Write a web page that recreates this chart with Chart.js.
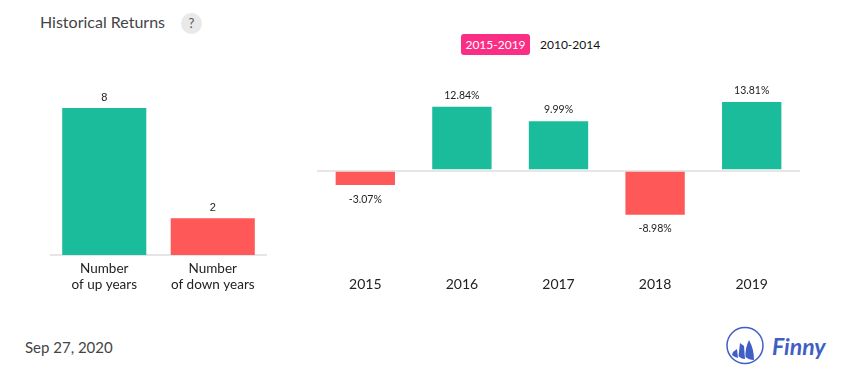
<!DOCTYPE html>
<html>
<head>
<meta charset="utf-8">
<title>Historical Returns</title>
<script src="https://cdn.jsdelivr.net/npm/chart.js@4"></script>
<style>
  html, body { margin: 0; padding: 0; background: #fff; overflow: hidden; }
  body { width: 855px; height: 382px; position: relative; font-family: Lato, sans-serif; }
  .box { position: absolute; }
  #title { left: 40px; top: 12px; font-size: 16px; color: #444; line-height: 20px; }
  #help { left: 181px; top: 13px; width: 21px; height: 21px; border-radius: 50%; background: #e9e9e9; color: #555; font-size: 13px; line-height: 21px; text-align: center; }
  #on { left: 461px; top: 34px; width: 69px; height: 21px; border-radius: 3px; background: #fb2e86; color: #fff; font-size: 12px; line-height: 21px; text-align: center; }
  #off { left: 540px; top: 34px; color: #111; font-size: 12px; line-height: 21px; }
  #date { left: 25px; top: 337px; font-size: 15px; line-height: 20px; color: #444; }
  #leftBox { left: 50px; top: 70px; width: 217px; height: 230px; }
  #rightBox { left: 317px; top: 60px; width: 483px; height: 240px; }
  #logo { left: 720px; top: 322px; }
</style>
</head>
<body>
<div class="box" id="title">Historical Returns</div>
<div class="box" id="help">?</div>
<div class="box" id="on">2015-2019</div>
<div class="box" id="off">2010-2014</div>
<div class="box" id="leftBox"><canvas id="leftChart"></canvas></div>
<div class="box" id="rightBox"><canvas id="rightChart"></canvas></div>
<div class="box" id="date">Sep 27, 2020</div>
<svg class="box" id="logo" width="115" height="50" viewBox="0 0 115 50">
  <circle cx="25" cy="23.5" r="18" fill="none" stroke="#3f5fc4" stroke-width="1.5"/>
  <path d="M13 30 L17 27 L18 36 Q14 35 12 33 Z M20 21 L24 24 L25 37 Q21 37 18.5 34 Z M29 18 Q34 27 34 38 Q29 38 25.5 35 Q25 26 29 18 Z" fill="#3f5fc4"/>
  <text x="52" y="33" font-family="Lato, sans-serif" font-size="23" font-weight="700" font-style="italic" fill="#3f5fc4">Finny</text>
</svg>

<script>
// left chart data
const countLabels = [['Number', 'of up years'], ['Number', 'of down years']];
const countValues = [8, 2];

// right chart data
const years = ['2015', '2016', '2017', '2018', '2019'];
const returns = [-3.07, 12.84, 9.99, -8.98, 13.81];

const green = '#1abc9c';
const red = '#ff5858';
const lineColor = '#e6e6e6';

Chart.defaults.animation = false;
Chart.defaults.responsive = true;
Chart.defaults.maintainAspectRatio = false;
Chart.defaults.plugins.legend.display = false;
Chart.defaults.plugins.tooltip.enabled = false;

// draws the number above or below each bar
const barLabels = {
  id: 'barLabels',
  afterDatasetsDraw(chart, args, opts) {
    const ctx = chart.ctx;
    const values = chart.data.datasets[0].data;
    ctx.save();
    ctx.font = opts.font;
    ctx.fillStyle = '#222';
    ctx.textAlign = 'center';
    chart.getDatasetMeta(0).data.forEach((bar, i) => {
      const v = values[i];
      ctx.textBaseline = v < 0 ? 'top' : 'bottom';
      ctx.fillText(opts.format(v), bar.x, v < 0 ? bar.y + 8 : bar.y - 5);
    });
    ctx.restore();
  }
};

new Chart(document.getElementById('leftChart'), {
  type: 'bar',
  plugins: [barLabels],
  data: {
    labels: countLabels,
    datasets: [{
      data: countValues,
      backgroundColor: countValues.map(v => v >= 5 ? green : red),
      barPercentage: 1,
      categoryPercentage: 0.775
    }]
  },
  options: {
    layout: { padding: { top: 38 } },
    plugins: {
      barLabels: { font: '11px "Liberation Sans"', format: v => String(v) }
    },
    scales: {
      x: {
        afterFit(axis) { axis.height = 45; axis.paddingLeft = 0; axis.paddingRight = 0; },
        grid: { display: false, drawTicks: false },
        border: { color: lineColor, width: 2 },
        ticks: { color: '#222', font: { family: 'Lato', size: 13.5, lineHeight: 1.18 }, padding: 6, maxRotation: 0, autoSkip: false }
      },
      y: { display: false, min: 0, max: 8 }
    }
  }
});

new Chart(document.getElementById('rightChart'), {
  type: 'bar',
  plugins: [barLabels],
  data: {
    labels: years,
    datasets: [{
      data: returns,
      backgroundColor: returns.map(v => v >= 0 ? green : red),
      borderColor: '#fff',
      borderWidth: 1,
      barPercentage: 1,
      categoryPercentage: 0.635
    }]
  },
  options: {
    layout: { padding: { top: 40 } },
    plugins: {
      barLabels: { font: '10.5px Lato', format: v => v.toFixed(2) + '%' }
    },
    scales: {
      x: {
        afterFit(axis) { axis.height = 79; axis.paddingLeft = 0; axis.paddingRight = 0; },
        grid: { display: false, drawTicks: false },
        border: { display: false },
        ticks: { color: '#222', font: { family: 'Lato', size: 14 }, padding: 55, maxRotation: 0 }
      },
      y: {
        min: -10,
        max: 14,
        afterFit(axis) { axis.width = 0; },
        ticks: { display: false, stepSize: 2 },
        border: { display: false },
        grid: {
          drawTicks: false,
          lineWidth: 2,
          color: c => c.tick.value === 0 ? lineColor : 'transparent'
        }
      }
    }
  }
});
</script>
</body>
</html>
